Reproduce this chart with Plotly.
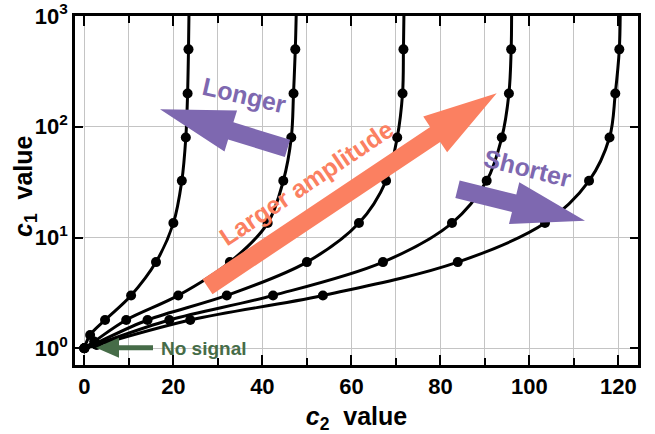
import math
import plotly.graph_objects as go

# ---------------- data ----------------
c1_curve1 = [1.0, 1.32, 1.8, 3.0, 6.0, 13.5, 32.5, 80, 200, 500]
c2_curve1 = [0.0, 1.3, 4.65, 10.5, 16.1, 20.0, 21.9, 22.8, 23.2, 23.4]

c1_curve2 = [1.0, 1.15, 1.8, 3.0, 6.0, 13.5, 32.5, 80, 200, 500]
c2_curve2 = [0.0, 2.2, 9.4, 21.1, 32.7, 41.2, 44.7, 46.5, 47.0, 47.4]

c1_curve3 = [1.0, 1.10, 1.8, 3.0, 6.0, 13.5, 32.5, 80, 200, 500]
c2_curve3 = [0.0, 2.4, 14.2, 32.0, 50.0, 61.7, 67.8, 70.3, 71.5, 71.7]

c1_curve4 = [1.0, 1.08, 1.8, 3.0, 6.0, 13.5, 32.5, 80, 200, 500]
c2_curve4 = [0.0, 2.6, 19.1, 42.4, 67.1, 82.6, 90.4, 93.8, 95.4, 95.9]

c1_curve5 = [1.0, 1.07, 1.8, 3.0, 6.0, 13.5, 32.5, 80, 200, 500]
c2_curve5 = [0.0, 2.8, 23.8, 53.6, 83.9, 103.5, 113.4, 118.0, 119.3, 120.2]

# where each curve leaves the top of the plot (c1 = 1000)
c1_top = 1000
c2_top = [23.5, 47.6, 71.8, 96.0, 120.4]

y_tickvals = [1, 10, 100, 1000]
y_ticktext = ["10<sup>0</sup>", "10<sup>1</sup>", "10<sup>2</sup>", "10<sup>3</sup>"]

# ---------------- figure ----------------
W, H = 655, 434
ML, MR, MT, MB = 75, 17, 16, 69
PW, PH = W - ML - MR, H - MT - MB

PURPLE = "#7E68B0"
ORANGE = "#FB8061"
GREEN = "#466C48"
FONT = "Liberation Sans, Arial, Helvetica, sans-serif"

fig = go.Figure()
curves = [(c2_curve1, c1_curve1), (c2_curve2, c1_curve2), (c2_curve3, c1_curve3),
          (c2_curve4, c1_curve4), (c2_curve5, c1_curve5)]
for (xs, ys), xt in zip(curves, c2_top):
    fig.add_trace(go.Scatter(x=list(xs) + [xt], y=list(ys) + [c1_top], mode="lines",
                             line=dict(color="black", width=3, shape="spline", smoothing=1),
                             hoverinfo="skip", showlegend=False))
for xs, ys in curves:
    fig.add_trace(go.Scatter(x=xs, y=ys, mode="markers",
                             marker=dict(color="black", size=10),
                             showlegend=False))


def px2paper(px, py):
    return (px - ML) / PW, (MT + PH - py) / PH


def arrow_path(tail, tip, shaft_w, head_w, head_len):
    tx, ty = tail
    hx, hy = tip
    L = math.hypot(hx - tx, hy - ty)
    ux, uy = (hx - tx) / L, (hy - ty) / L
    nx, ny = -uy, ux
    bx, by = hx - ux * head_len, hy - uy * head_len
    pts = [
        (tx + nx * shaft_w / 2, ty + ny * shaft_w / 2),
        (bx + nx * shaft_w / 2, by + ny * shaft_w / 2),
        (bx + nx * head_w / 2, by + ny * head_w / 2),
        (hx, hy),
        (bx - nx * head_w / 2, by - ny * head_w / 2),
        (bx - nx * shaft_w / 2, by - ny * shaft_w / 2),
        (tx - nx * shaft_w / 2, ty - ny * shaft_w / 2),
    ]
    pp = [px2paper(x, y) for x, y in pts]
    return "M " + " L ".join(f"{x:.5f},{y:.5f}" for x, y in pp) + " Z"


arrows = [
    ((287.5, 148.3), (160.0, 109.3), 18, 43, 74, PURPLE),   # Longer
    ((207.5, 286.7), (496.7, 93.3), 18, 43, 74, ORANGE),    # Larger amplitude
    ((457.5, 189.2), (585.0, 220.7), 18, 43, 73, PURPLE),   # Shorter
    ((153.0, 347.7), (96.0, 347.7), 5, 20, 23, GREEN),      # No signal
]
for tail, tip, sw, hw, hl, col in arrows:
    fig.add_shape(type="path", xref="paper", yref="paper",
                  path=arrow_path(tail, tip, sw, hw, hl),
                  fillcolor=col, line=dict(width=0), layer="above")

texts = [
    ("Longer", 244, 95, 13, PURPLE, 25),
    ("Larger amplitude", 306, 183, -33.8, ORANGE, 25),
    ("Shorter", 527, 168, 14, PURPLE, 25),
    ("No signal", 204, 348, 0, GREEN, 19),
    ("<i>c</i><sub>1</sub>  value", 25, 186, -90, "black", 25),
]
for t, cx, cy, ang, col, fs in texts:
    x, y = px2paper(cx, cy)
    fig.add_annotation(x=x, y=y, xref="paper", yref="paper", text=t, showarrow=False,
                       textangle=ang, xanchor="center", yanchor="middle",
                       font=dict(family=FONT, size=fs, color=col, weight="bold"))

grid = "#c4c4c4"
fig.update_xaxes(
    range=[-2.1, 124.4], tick0=0, dtick=20,
    ticks="inside", ticklen=10, tickwidth=2, tickcolor="black",
    minor=dict(dtick=10, tick0=0, ticks="inside", ticklen=7, tickwidth=2, tickcolor="black",
               showgrid=True, gridcolor=grid, gridwidth=1),
    showgrid=True, gridcolor=grid, gridwidth=1, zeroline=False,
    showline=True, linecolor="black", linewidth=2.5, mirror="ticks",
    tickfont=dict(family=FONT, size=22, color="black", weight="bold"),
    title=dict(text="<i>c</i><sub>2</sub>  value", standoff=10,
               font=dict(family=FONT, size=25, color="black", weight="bold")),
    automargin=False,
)
fig.update_yaxes(
    type="log", range=[-0.151, 3.0],
    tickvals=y_tickvals, ticktext=y_ticktext,
    ticks="inside", ticklen=8, tickwidth=2, tickcolor="black",
    showgrid=True, gridcolor=grid, gridwidth=1, zeroline=False,
    showline=True, linecolor="black", linewidth=2.5, mirror="ticks",
    tickfont=dict(family=FONT, size=22, color="black", weight="bold"),
    automargin=False,
)
fig.update_layout(
    width=W, height=H,
    margin=dict(l=ML, r=MR, t=MT, b=MB, pad=0),
    plot_bgcolor="white", paper_bgcolor="white",
    showlegend=False,
)
fig.write_html("out.html", config={"displayModeBar": False},
               post_script="document.body.style.margin='0';")
